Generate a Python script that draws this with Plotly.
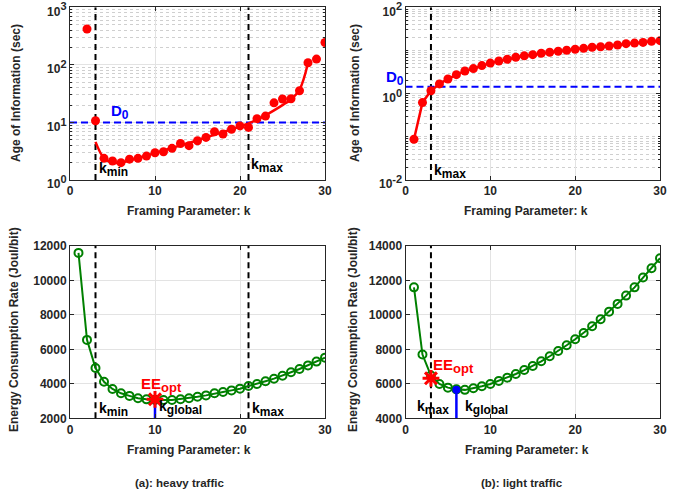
import numpy as np
import plotly.graph_objects as go

# ---------------- data ----------------
k = list(range(1, 31))

# (a) heavy traffic: Age of Information (sec), k = 2..30
aoi_heavy_k = list(range(2, 31))
aoi_heavy = [420, 10.7, 2.38, 2.14, 2.0, 2.3, 2.38, 2.6, 2.98, 3.1, 3.55, 4.3, 3.95,
             4.8, 5.5, 6.9, 6.3, 7.6, 8.7, 8.2, 11.6, 12.9, 21.9, 25.5, 25.8, 35.5,
             109, 126, 245]
# fitted curve (heavy traffic), k = 3..28
aoi_fit_k = list(range(3, 29))
aoi_fit = [4.6, 2.4, 2.0, 2.0, 2.2, 2.4, 2.65, 2.95, 3.25, 3.6, 4.0, 4.4, 4.9, 5.5,
           6.1, 6.8, 7.6, 8.5, 9.6, 11.2, 13.3, 16.2, 20.0, 25.0, 37.0, 108]

# (b) light traffic: Age of Information (sec), k = 1..30
aoi_light = [0.088, 0.62, 1.17, 1.68, 2.19, 2.75, 3.35, 3.8, 4.46, 5.1, 5.7, 6.25,
             6.95, 7.5, 8.0, 8.6, 9.1, 9.6, 10.1, 10.7, 11.2, 11.9, 12.2, 12.7, 13.4,
             14.4, 14.8, 15.4, 16.3, 16.9]

# Energy consumption rate (Joul/bit)
ee_heavy = [11600, 6550, 4920, 4120, 3700, 3450, 3300, 3160, 3100, 3070, 3060, 3060,
            3110, 3160, 3250, 3330, 3450, 3530, 3620, 3720, 3870, 3990, 4150, 4300,
            4470, 4670, 4860, 5070, 5290, 5520]
ee_light = [11600, 7700, 6480, 5990, 5780, 5680, 5650, 5740, 5860, 5990, 6170, 6360,
            6570, 6800, 7040, 7310, 7600, 7910, 8240, 8590, 8950, 9340, 9750, 10190,
            10640, 11120, 11600, 12170, 12710, 13290]

D0_heavy = 10.0
D0_light = 1.45
kmin_heavy, kmax_heavy, kglobal_heavy = 3, 21, 10
kmax_light, kglobal_light = 3, 6
EEopt_heavy = (10, 3100)
EEopt_light = (3, 6320)
kglobal_light_val = 5650

xticks = [0, 10, 20, 30]

# ---------------- style ----------------
FONT = "Liberation Sans"
TXT = "#262626"
RED = "#ff0000"
BLUE = "#0000ff"
GREEN = "#008000"
GRID = "#e3e3e3"
MINORGRID = "#cfcfcf"
DASH_K = "6px,4px"

fig = go.Figure()

# ---- top-left ----
for kv in (kmin_heavy, kmax_heavy):
    fig.add_trace(go.Scatter(x=[kv, kv], y=[1, 1000], mode="lines",
                             line=dict(color="black", width=2, dash=DASH_K), xaxis="x", yaxis="y"))
fig.add_trace(go.Scatter(x=[0, 30], y=[D0_heavy, D0_heavy], mode="lines",
                         line=dict(color=BLUE, width=2, dash="7px,4px"), xaxis="x", yaxis="y"))
fig.add_trace(go.Scatter(x=aoi_fit_k, y=aoi_fit, mode="lines", line=dict(color=RED, width=2.5, shape="spline"),
                         xaxis="x", yaxis="y"))
fig.add_trace(go.Scatter(x=aoi_heavy_k, y=aoi_heavy, mode="markers",
                         marker=dict(color=RED, size=9), xaxis="x", yaxis="y"))

# ---- top-right ----
fig.add_trace(go.Scatter(x=[kmax_light, kmax_light], y=[0.01, 100], mode="lines",
                         line=dict(color="black", width=2, dash=DASH_K), xaxis="x2", yaxis="y2"))
fig.add_trace(go.Scatter(x=[0, 30], y=[D0_light, D0_light], mode="lines",
                         line=dict(color=BLUE, width=2, dash="7px,4px"), xaxis="x2", yaxis="y2"))
fig.add_trace(go.Scatter(x=k, y=aoi_light, mode="lines+markers", line=dict(color=RED, width=2.5),
                         marker=dict(color=RED, size=9), xaxis="x2", yaxis="y2"))

# ---- bottom-left ----
for kv in (kmin_heavy, kmax_heavy):
    fig.add_trace(go.Scatter(x=[kv, kv], y=[2000, 12000], mode="lines",
                             line=dict(color="black", width=2, dash=DASH_K), xaxis="x3", yaxis="y3"))
fig.add_trace(go.Scatter(x=k, y=ee_heavy, mode="lines+markers", line=dict(color=GREEN, width=2),
                         marker=dict(symbol="circle-open", size=8, color=GREEN, line=dict(width=2)),
                         xaxis="x3", yaxis="y3"))
fig.add_trace(go.Scatter(x=[kglobal_heavy, kglobal_heavy], y=[2000, EEopt_heavy[1]], mode="lines",
                         line=dict(color=BLUE, width=2.5), xaxis="x3", yaxis="y3"))
fig.add_trace(go.Scatter(x=[EEopt_heavy[0]], y=[EEopt_heavy[1]], mode="markers",
                         marker=dict(symbol="asterisk-open", size=14, color=RED, line=dict(width=3, color=RED)),
                         xaxis="x3", yaxis="y3"))

# ---- bottom-right ----
fig.add_trace(go.Scatter(x=[kmax_light, kmax_light], y=[4000, 14000], mode="lines",
                         line=dict(color="black", width=2, dash=DASH_K), xaxis="x4", yaxis="y4"))
fig.add_trace(go.Scatter(x=k, y=ee_light, mode="lines+markers", line=dict(color=GREEN, width=2),
                         marker=dict(symbol="circle-open", size=8, color=GREEN, line=dict(width=2)),
                         xaxis="x4", yaxis="y4"))
fig.add_trace(go.Scatter(x=[kglobal_light, kglobal_light], y=[4000, kglobal_light_val], mode="lines",
                         line=dict(color=BLUE, width=2.5), xaxis="x4", yaxis="y4"))
fig.add_trace(go.Scatter(x=[kglobal_light], y=[kglobal_light_val], mode="markers",
                         marker=dict(color=BLUE, size=8), xaxis="x4", yaxis="y4"))
fig.add_trace(go.Scatter(x=[EEopt_light[0]], y=[EEopt_light[1]], mode="markers",
                         marker=dict(symbol="asterisk-open", size=14, color=RED, line=dict(width=3, color=RED)),
                         xaxis="x4", yaxis="y4"))

# ---------------- axes ----------------
tickfont = dict(family=FONT, size=12, color=TXT, weight="bold")


def xax(domain, anchor):
    return dict(domain=domain, anchor=anchor, range=[0, 30], tickvals=xticks,
                showgrid=True, gridcolor=GRID, gridwidth=1, zeroline=False,
                showline=True, linecolor=TXT, linewidth=1, mirror="ticks",
                ticks="inside", ticklen=4, tickcolor=TXT, tickfont=tickfont, automargin=False,
                ticklabeloverflow="allow")


def minor_log(lo, hi, majors):
    vals = []
    for e in range(lo, hi):
        for m in range(1, 10):
            v = m * 10.0 ** e
            if m == 1 and e in majors:
                continue
            vals.append(v)
    return vals


def pow10(e):
    return "10<sup><span style='font-size:11px'>%d</span></sup>" % e


top_dom = [1 - 180 / 490, 1 - 7.3 / 490]
bot_dom = [1 - 418.3 / 490, 1 - 246 / 490]
left_dom = [70 / 678, 325 / 678]
right_dom = [405.5 / 678, 660 / 678]

yax_common = dict(showgrid=True, gridcolor=GRID, zeroline=False, showline=True, linecolor=TXT,
                  linewidth=1, mirror="ticks", ticks="inside", ticklen=4, tickcolor=TXT,
                  tickfont=tickfont, automargin=False, ticklabeloverflow="allow")

fig.update_layout(
    xaxis=xax(left_dom, "y"),
    xaxis2=xax(right_dom, "y2"),
    xaxis3=xax(left_dom, "y3"),
    xaxis4=xax(right_dom, "y4"),
    yaxis=dict(domain=top_dom, anchor="x", type="log", range=[0, 3],
               tickvals=[1, 10, 100, 1000], ticktext=[pow10(e) for e in (0, 1, 2, 3)],
               ticklabelshift=4,
               minor=dict(tickvals=minor_log(0, 3, [0, 1, 2, 3]), showgrid=True,
                          gridcolor=MINORGRID, griddash="dot", ticks="inside", ticklen=2, tickcolor=TXT),
               **yax_common),
    yaxis2=dict(domain=top_dom, anchor="x2", type="log", range=[-2, 2],
                tickvals=[0.01, 1, 100], ticktext=[pow10(e) for e in (-2, 0, 2)],
                ticklabelshift=4,
                minor=dict(tickvals=minor_log(-2, 2, [-2, 0, 2]), showgrid=True,
                           gridcolor=MINORGRID, griddash="dot", ticks="inside", ticklen=2, tickcolor=TXT),
                **yax_common),
    yaxis3=dict(domain=bot_dom, anchor="x3", range=[2000, 12000], tickformat="d",
                tickvals=[2000, 4000, 6000, 8000, 10000, 12000], **yax_common),
    yaxis4=dict(domain=bot_dom, anchor="x4", range=[4000, 14000], tickformat="d",
                tickvals=[4000, 6000, 8000, 10000, 12000, 14000], **yax_common),
)

# ---------------- annotations ----------------
ann = []
lab = dict(family=FONT, size=14, color="black", weight="bold")


def sub(base, s, size=12):
    return "%s<sub><span style='font-size:%dpx'>%s</span></sub>" % (base, size, s)


def a(x, y, text, xref, yref, font, **kw):
    d = dict(x=x, y=y, text=text, xref=xref, yref=yref, showarrow=False, font=font)
    d.update(kw)
    ann.append(d)


# top-left
a(5.9, np.log10(15.2), sub("D", "0", 12), "x", "y", dict(lab, color=BLUE, size=15))
a(5.1, np.log10(1.5), sub("k", "min"), "x", "y", lab)
a(23.2, np.log10(1.8), sub("k", "max"), "x", "y", lab)
# top-right
a(-0.085, np.log10(2.3), sub("D", "0", 12), "x2 domain", "y2", dict(lab, color=BLUE, size=15))
a(5.3, np.log10(0.0155), sub("k", "max"), "x2", "y2", lab)
# bottom-left
a(10.8, 3950, sub("EE", "opt", 13), "x3", "y3", dict(lab, color=RED, size=15))
a(13.0, 2600, sub("k", "global"), "x3", "y3", lab)
a(5.1, 2500, sub("k", "min"), "x3", "y3", lab)
a(23.3, 2500, sub("k", "max"), "x3", "y3", lab)
# bottom-right
a(5.7, 7050, sub("EE", "opt", 13), "x4", "y4", dict(lab, color=RED, size=15))
a(3.2, 4600, sub("k", "max"), "x4", "y4", lab)
a(9.6, 4600, sub("k", "global"), "x4", "y4", lab)

# axis titles
ttl = dict(family=FONT, size=12, color=TXT, weight="bold")
ctr = dict(xanchor="center", yanchor="middle")
for cx, cy in ((189, 211), (526, 211), (189, 450), (527, 450)):
    a(cx / 678, 1 - cy / 490, "Framing Parameter: k", "paper", "paper", ttl, **ctr)
a(16 / 678, 1 - 93 / 490, "Age of Information (sec)", "paper", "paper", ttl, textangle=-90, **ctr)
a(355 / 678, 1 - 93 / 490, "Age of Information (sec)", "paper", "paper", ttl, textangle=-90, **ctr)
a(14 / 678, 1 - 330 / 490, "Energy Consumption Rate (Joul/bit)", "paper", "paper", ttl, textangle=-90, **ctr)
a(353 / 678, 1 - 330 / 490, "Energy Consumption Rate (Joul/bit)", "paper", "paper", ttl, textangle=-90, **ctr)

cap = dict(family=FONT, size=11.5, color=TXT, weight="bold")
a(179 / 678, 1 - 483 / 490, "(a): heavy traffic", "paper", "paper", cap, **ctr)
a(522 / 678, 1 - 483 / 490, "(b): light traffic", "paper", "paper", cap, **ctr)

fig.update_layout(
    annotations=ann,
    width=678, height=490,
    margin=dict(l=0, r=0, t=0, b=0, autoexpand=False),
    paper_bgcolor="white", plot_bgcolor="white",
    showlegend=False,
    font=dict(family=FONT, color=TXT),
)

fig.write_html("out.html", config={"displayModeBar": False},
               post_script="document.body.style.margin='0px';")
